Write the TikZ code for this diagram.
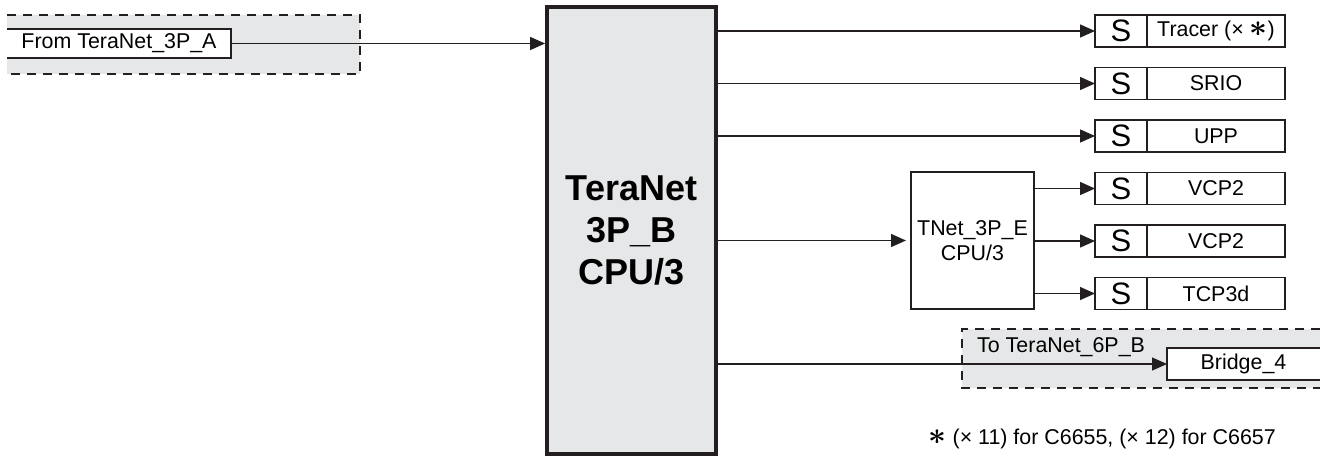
\documentclass[tikz,border=0pt]{standalone}
\usepackage{fontspec}
\setmainfont{Liberation Sans}
\usetikzlibrary{arrows.meta,positioning}
\definecolor{lineDark}{RGB}{35,31,32}
\definecolor{fillGray}{RGB}{230,231,232}
\tikzset{
  busArrow/.style={draw=lineDark,line width=1.3pt,-{Triangle[length=15pt,width=13pt]}},
  sPort/.style={draw=lineDark,line width=1.3pt,fill=white,outer sep=0pt,inner sep=0pt,
    minimum width=52pt,minimum height=32pt,font=\fontsize{31}{32}\selectfont},
  sName/.style={draw=lineDark,line width=1.3pt,fill=white,outer sep=0pt,inner sep=0pt,
    minimum width=138pt,minimum height=32pt},
  plainBox/.style={draw=lineDark,line width=1.3pt,fill=white,outer sep=0pt,inner sep=0pt},
  openBox/.style={fill=white,outer sep=0pt,inner sep=0pt},
  openEdge/.style={draw=lineDark,line width=1.3pt},
  zoneFill/.style={fill=fillGray},
  zoneEdge/.style={draw=lineDark,line width=1.3pt,dash pattern=on 9pt off 7pt},
}
\newcommand{\StarMark}{\scalebox{1.5}{\boldmath$\ast$}}

\begin{document}
\begin{tikzpicture}[x=1pt,y=-1pt,font=\fontsize{21.4}{25}\selectfont]
\useasboundingbox (0,0) rectangle (1320,456);
% grey zones
\fill[zoneFill] (7,15) rectangle (360,74);
\fill[zoneFill] (962,329) rectangle (1320,388);
\draw[zoneEdge] (7,15) -| (360,74) -- (7,74);
\draw[zoneEdge] (1320,329) -- (962,329) |- (1320,388);
% boxes cut by the zone edges
\node[openBox,minimum width=224pt,minimum height=29pt] (fromA) at (119,43.5) {From TeraNet\_3P\_A};
\draw[openEdge] (fromA.north west) -- (fromA.north east) -- (fromA.south east) -- (fromA.south west);
\node[openBox,minimum width=153pt,minimum height=32pt] (bridge) at (1243.5,364) {Bridge\_4};
\draw[openEdge] (bridge.north east) -- (bridge.north west) -- (bridge.south west) -- (bridge.south east);
% main switch
\node[draw=lineDark,line width=3.8pt,fill=fillGray,inner sep=0pt,minimum width=169pt,minimum height=447pt,
  align=center,font=\bfseries\fontsize{36}{42}\selectfont] (tn3pb) at (631.5,230.5) {TeraNet\\3P\_B\\CPU/3};
\node[plainBox,minimum width=123pt,minimum height=137pt,align=center] (tnet3pe) at (972.5,240.5) {TNet\_3P\_E\\CPU/3};
% slave ports
\foreach \row/\yy/\txt in {1/31/{Tracer (× \StarMark)},2/83.5/SRIO,3/136/UPP,4/188.5/VCP2,5/241/VCP2,6/293.5/TCP3d}{
  \node[sPort] (s\row) at (1121,\yy) {S};
  \node[sName,right=0pt of s\row] (n\row) {\txt};
}
\draw[busArrow] (fromA.east) -- (fromA.east -| tn3pb.west);
\foreach \row in {1,2,3}
  \draw[busArrow] (tn3pb.east |- s\row) -- (s\row.west);
\draw[busArrow,shorten >=5pt] (tn3pb.east |- tnet3pe) -- (tnet3pe.west);
\foreach \row in {4,5,6}
  \draw[busArrow] (tnet3pe.east |- s\row) -- (s\row.west);
\draw[busArrow] (tn3pb.east |- bridge) -- (bridge.west);
\node[anchor=base west,inner sep=0pt] (toLbl) at (977,352) {To TeraNet\_6P\_B};
% footnote
\node[anchor=base east,inner sep=0pt] (note) at (1276,444) {\StarMark\ (× 11) for C6655, (× 12) for C6657};
\end{tikzpicture}
\end{document}
